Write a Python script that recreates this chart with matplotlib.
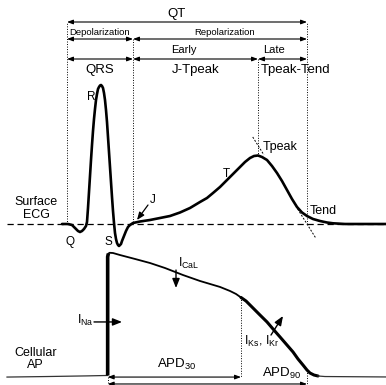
import matplotlib
matplotlib.use("Agg")
import matplotlib.pyplot as plt
import numpy as np

plt.rcParams["font.family"] = ["Liberation Sans", "DejaVu Sans"]
plt.rcParams["mathtext.fontset"] = "custom"
plt.rcParams["mathtext.rm"] = "Liberation Sans"
plt.rcParams["mathtext.it"] = "Liberation Sans"
plt.rcParams["mathtext.default"] = "regular"

# ---- Surface ECG trace: time (ms) and amplitude (mV) ----
ecg_t = [-7.5, 1.5, 7.5, 13.5, 16.5, 19.5, 22.5, 25.5, 28.5, 30, 31.5, 33, 34.5, 36,
         37.5, 39, 40.5, 42, 43.5, 45, 46.5, 48, 49.5, 51, 52.5, 54, 55.5, 57, 58.5,
         60, 61.5, 63, 64.5, 66, 67.5, 69, 70.5, 72, 73.5, 75, 76.5, 78, 79.5, 81,
         82.5, 85.5, 88.5, 91.5, 94.5, 99, 109.5, 124.5, 139.5, 154.5, 169.5, 184.5,
         199.5, 210, 219, 229.5, 237, 244.5, 252, 259.5, 267, 274.5, 280.5, 286.5,
         292.5, 300, 307.5, 315, 322.5, 330, 337.5, 345, 352.5, 360, 369, 379.5, 390,
         399, 417, 478.5]
ecg_mv = [0.00, 0.00, -0.01, -0.05, -0.07, -0.08, -0.07, -0.05, -0.02, 0.02, 0.16,
          0.32, 0.48, 0.64, 0.79, 0.93, 1.05, 1.15, 1.24, 1.30, 1.35, 1.37, 1.385,
          1.39, 1.38, 1.36, 1.31, 1.24, 1.14, 1.02, 0.87, 0.72, 0.57, 0.42, 0.27,
          0.13, 0.01, -0.09, -0.15, -0.19, -0.21, -0.22, -0.21, -0.20, -0.17, -0.12,
          -0.07, -0.03, -0.01, 0.01, 0.025, 0.04, 0.06, 0.08, 0.115, 0.16, 0.22, 0.26,
          0.31, 0.37, 0.42, 0.47, 0.52, 0.57, 0.62, 0.66, 0.68, 0.685, 0.67, 0.64,
          0.58, 0.51, 0.43, 0.34, 0.25, 0.17, 0.115, 0.08, 0.05, 0.03, 0.015, 0.007,
          0.0, 0.0]

# ---- Cellular action potential: time (ms) and membrane potential (mV) ----
ap_t = [-90, -30, 30, 61, 61, 62, 64, 69, 79.5, 102, 124.5, 147, 174, 199.5, 214.5,
        229.5, 244.5, 253.5, 261, 268.5, 279, 289.5, 300, 309, 319.5, 330, 339, 346.5,
        354, 360, 364.5, 370.5, 376.5, 387, 478.5]
ap_mv = [-86.0, -85.5, -84.9, -84.5, 27.0, 30.0, 30.8, 30.6, 28.7, 25.0, 21.2, 16.5,
         9.9, 4.3, 1.5, -1.3, -5.1, -7.9, -11.2, -14.5, -21.1, -27.7, -34.2, -40.8,
         -48.3, -55.9, -62.4, -69.0, -74.7, -79.4, -82.2, -84.1, -85.0, -85.5, -85.9]

# ---- interval landmarks (ms) ----
q_onset = 0
j_point = 99
t_peak = 286.5
t_end = 360
ap_upstroke = 61
apd30_end = 261
apd90_end = 360
# tangent at the steepest T-wave downslope, crossing baseline at Tend
tangent_slope = -0.93 / 87.0  # mV per ms

fig = plt.figure(figsize=(3.86, 3.85), dpi=100)
ax = fig.add_axes([0, 0, 1, 1])
ax_ap = fig.add_axes([0, 0, 1, 1])
ax_ap.patch.set_alpha(0)
x_range = (-100.5, 478.5)
ax.set_xlim(*x_range)
ax.set_ylim(-1.61, 2.24)
ax_ap.set_xlim(*x_range)
ax_ap.set_ylim(-93.46, 268.4)
for a in (ax, ax_ap):
    a.axis("off")

K = "black"
dotted = (0, (1, 1.6))


def span(a, t0, t1, y, lw=0.8, head="head_length=0.35,head_width=0.13"):
    a.annotate("", xy=(t1, y), xytext=(t0, y),
               arrowprops=dict(arrowstyle="<|-|>," + head, lw=lw, color=K,
                               shrinkA=0, shrinkB=0, mutation_scale=10))


def pointer(a, xy_from, xy_to, lw=1.0, head="head_length=0.55,head_width=0.22"):
    a.annotate("", xy=xy_to, xytext=xy_from,
               arrowprops=dict(arrowstyle="-|>," + head, lw=lw, color=K,
                               shrinkA=0, shrinkB=0, mutation_scale=10))


# ---------------- ECG ----------------
ax.plot([x_range[0] + 10.5, x_range[1]], [0, 0], color=K, lw=0.9,
        linestyle=(0, (5, 3)))
ax.plot(ecg_t, ecg_mv, color=K, lw=1.9, solid_joinstyle="round",
        solid_capstyle="round")

# landmark verticals
ecg_arr_t = np.array(ecg_t)
ecg_arr_v = np.array(ecg_mv)
ax.plot([q_onset, q_onset], [0.0, 2.02], color=K, lw=0.7, linestyle=dotted)
ax.plot([j_point, j_point], [0.02, 1.86], color=K, lw=0.7, linestyle=dotted)
ax.plot([t_peak, t_peak], [np.interp(t_peak, ecg_arr_t, ecg_arr_v), 1.66],
        color=K, lw=0.7, linestyle=dotted)
ax.plot([t_end, t_end], [0.0, 2.02], color=K, lw=0.7, linestyle=dotted)

# tangent line pieces
for v0, v1 in [(0.87, 0.69), (0.15, -0.14)]:
    ta = t_end + v0 / tangent_slope
    tb = t_end + v1 / tangent_slope
    ax.plot([ta, tb], [v0, v1], color=K, lw=0.7, linestyle=(0, (2, 1.6)))

# interval bars
span(ax, q_onset, t_end, 2.02)
span(ax, q_onset, j_point, 1.85)
span(ax, j_point, t_end, 1.85)
span(ax, q_onset, j_point, 1.65)
span(ax, j_point, t_peak, 1.65)
span(ax, t_peak, t_end, 1.65)

ax.text(163.5, 2.065, "QT", ha="center", va="baseline", fontsize=9.5)
ax.text(49.5, 1.892, "Depolarization", ha="center", va="baseline", fontsize=6.8)
ax.text(237, 1.892, "Repolarization", ha="center", va="baseline", fontsize=6.8)
ax.text(175.5, 1.707, "Early", ha="center", va="baseline", fontsize=8)
ax.text(310.5, 1.707, "Late", ha="center", va="baseline", fontsize=8)
ax.text(48.75, 1.507, "QRS", ha="center", va="baseline", fontsize=9.5)
ax.text(193.5, 1.507, "J-Tpeak", ha="center", va="baseline", fontsize=9.5)
ax.text(343.5, 1.507, "Tpeak-Tend", ha="center", va="baseline", fontsize=9.5)

ax.text(36, 1.24, "R", ha="center", va="baseline", fontsize=8.5)
ax.text(4.5, -0.21, "Q", ha="center", va="baseline", fontsize=8.5)
ax.text(62.25, -0.21, "S", ha="center", va="baseline", fontsize=8.5)
ax.text(238.5, 0.47, "T", ha="center", va="baseline", fontsize=8.5)
ax.text(128, 0.21, "J", ha="center", va="baseline", fontsize=8.5)
pointer(ax, (121.5, 0.19), (105, 0.04), lw=0.9,
        head="head_length=0.45,head_width=0.18")
ax.text(294, 0.74, "Tpeak", ha="left", va="baseline", fontsize=9)
ax.text(364.5, 0.10, "Tend", ha="left", va="baseline", fontsize=9)
ax.text(-47, 0.19, "Surface", ha="center", va="baseline", fontsize=9)
ax.text(-46.5, 0.057, "ECG", ha="center", va="baseline", fontsize=9)

# ---------------- Action potential ----------------
t = np.array(ap_t, dtype=float)
v = np.array(ap_mv, dtype=float)
up_top = 5  # index where the upstroke rounds into the plateau
rest = slice(0, 4)
ax_ap.plot(t[rest], v[rest], color="#333333", lw=0.9)
ax_ap.plot(t[3:up_top + 1], v[3:up_top + 1], color=K, lw=2.6,
           solid_capstyle="butt", solid_joinstyle="round")
i30 = int(np.where(t == apd30_end)[0][0])
ax_ap.plot(t[up_top:i30 + 1], v[up_top:i30 + 1], color=K, lw=1.3,
           solid_joinstyle="round")
i_tail = int(np.where(t == 376.5)[0][0])
ax_ap.plot(t[i30:i_tail + 1], v[i30:i_tail + 1], color=K, lw=2.2,
           solid_joinstyle="round", solid_capstyle="round")
ax_ap.plot(t[i_tail:], v[i_tail:], color="#333333", lw=0.9)

v30 = np.interp(apd30_end, t, v)
v90 = np.interp(apd90_end, t[i30:], v[i30:])
ax_ap.plot([apd30_end, apd30_end], [v30, -86.0], color=K, lw=0.7, linestyle=dotted)
ax_ap.plot([apd90_end, apd90_end], [v90, -92.5], color=K, lw=0.7, linestyle=dotted)
ax_ap.plot([ap_upstroke, ap_upstroke], [-86.0, -93.0], color=K, lw=0.7,
           linestyle=dotted)

span(ax_ap, ap_upstroke, apd30_end, -86.0)
span(ax_ap, ap_upstroke, apd90_end, -92.5)
ax_ap.text(165, -77.2, "APD$_{30}$", ha="center", va="baseline", fontsize=9.5)
ax_ap.text(322.5, -86.2, "APD$_{90}$", ha="center", va="baseline", fontsize=9.5)

ax_ap.text(-46.5, -66.2, "Cellular", ha="center", va="baseline", fontsize=9)
ax_ap.text(-48, -77.5, "AP", ha="center", va="baseline", fontsize=9)

ax_ap.text(15, -36.0, "I$_{Na}$", ha="left", va="baseline", fontsize=9)
pointer(ax_ap, (40.5, -34.2), (82.5, -34.2))
ax_ap.text(166.5, 17.7, "I$_{CaL}$", ha="left", va="baseline", fontsize=9)
pointer(ax_ap, (163.5, 14.6), (163.5, -2.3))
ax_ap.text(265.5, -55.9, "I$_{Ks}$, I$_{Kr}$", ha="left", va="baseline",
           fontsize=9)
pointer(ax_ap, (306, -46.5), (324, -28.6))

fig.savefig("out.png", dpi=100, facecolor="white")
